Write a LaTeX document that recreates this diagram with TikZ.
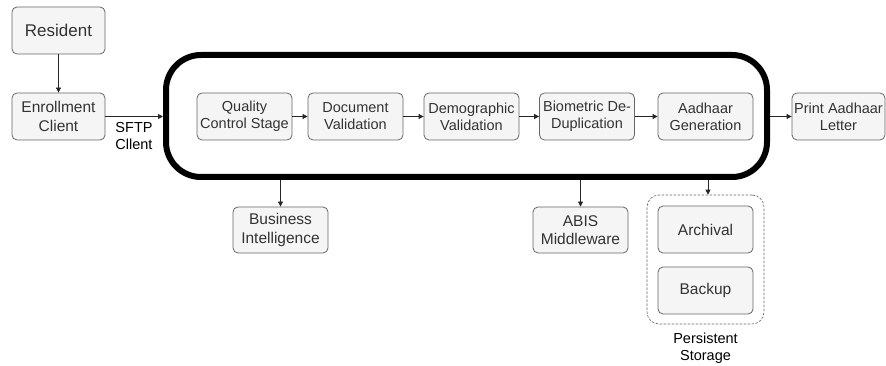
\documentclass[tikz,border=0pt]{standalone}
\usepackage{fontspec}
\setmainfont{Liberation Sans}
\usetikzlibrary{arrows.meta}
\definecolor{boxfill}{HTML}{F5F5F5}
\definecolor{boxline}{HTML}{666666}
\definecolor{boxtext}{HTML}{333333}
\tikzset{
  box/.style={draw=boxline, fill=boxfill, text=boxtext, rounded corners=5pt,
    minimum width=95pt, minimum height=47pt, align=center, inner sep=0pt, line width=0.8pt},
  arr/.style={-{Triangle[length=5pt,width=5pt]}, line width=0.8pt, draw=black!85},
  fA/.style={font=\fontsize{14.5pt}{17pt}\selectfont},
  fB/.style={font=\fontsize{15.5pt}{18.5pt}\selectfont},
  fC/.style={font=\fontsize{17pt}{20pt}\selectfont},
  container/.style={draw=black, line width=6pt, rounded corners=35pt,
    minimum width=601pt, minimum height=122pt, inner sep=0pt},
  storage/.style={draw=boxline, dash pattern=on 2.5pt off 1.5pt, line width=0.6pt, rounded corners=12pt,
    minimum width=117pt, minimum height=129pt, inner sep=0pt},
  plain/.style={align=center, text=black, inner sep=0pt}
}
\begin{document}
\begin{tikzpicture}[x=1pt,y=-1pt]
\useasboundingbox (0,0) rectangle (886,366);
\node[container] (main) at (466.5,116) {};
\node[box,fC,minimum width=93pt] (res) at (58.5,30.5) {Resident};
\node[box,fB,minimum width=93pt] (enr) at (58.5,116.5) {Enrollment\\Client};
\node[box,fA] (qc) at (244.5,116.5) {Quality\\Control Stage};
\node[box,fA] (doc) at (355.5,116.5) {Document\\Validation};
\node[box,fA] (dem) at (471.5,116.5) {Demographic\\Validation};
\node[box,fA] (bio) at (587,116.5) {Biometric De-\\Duplication};
\node[box,fA] (aad) at (705.5,116.5) {Aadhaar\\Generation};
\node[box,fA,minimum width=93pt] (prt) at (838.5,116.5) {Print Aadhaar\\Letter};
\node[box,fB,minimum height=46pt] (bi) at (280.5,230) {Business\\Intelligence};
\node[box,fB,minimum height=46pt] (abis) at (580.5,230) {ABIS\\Middleware};
\node[storage] (ps) at (705.5,259.5) {};
\node[box,fB] (arc) at (705.5,229.5) {Archival};
\node[box,fB] (bak) at (705.5,290.5) {Backup};
\node[plain,fA] (psl) at (705.5,348) {Persistent\\Storage};
\node[plain,fA] (sftp) at (134,136) {SFTP\\Cllent};
\draw[arr] (res) -- (enr);
\draw[arr] (enr.east) -- (enr.east -| main.west);
\draw[arr] (qc) -- (doc);
\draw[arr] (doc) -- (dem);
\draw[arr] (dem) -- (bio);
\draw[arr] (bio) -- (aad);
\draw[arr] (main.east |- prt.west) -- (prt.west);
\draw[arr] (bi.north |- main.south) -- (bi.north);
\draw[arr] (abis.north |- main.south) -- (abis.north);
\draw[arr] ([xshift=2.5pt]ps.north |- main.south) -- ([xshift=2.5pt]ps.north);
\end{tikzpicture}
\end{document}
